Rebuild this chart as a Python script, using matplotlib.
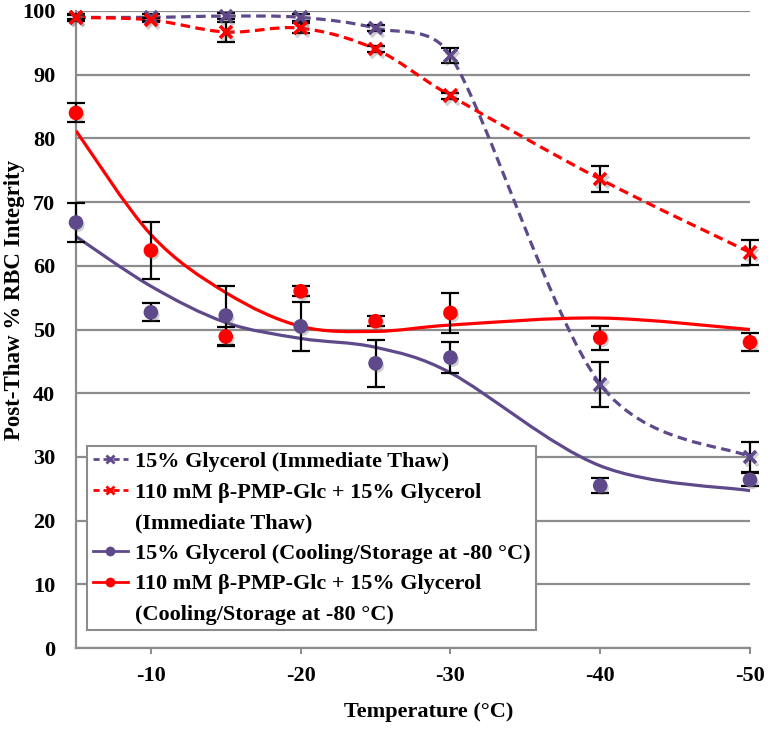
import numpy as np
import matplotlib
matplotlib.use('Agg')
import matplotlib.pyplot as plt
import matplotlib.patheffects as pe
from matplotlib.path import Path
from matplotlib.patches import PathPatch
from matplotlib.lines import Line2D

# ---------------- data ----------------
temps = [-5, -10, -15, -20, -25, -30, -40, -50]
xtick_vals = [-10, -20, -30, -40, -50]
ytick_vals = [0, 10, 20, 30, 40, 50, 60, 70, 80, 90, 100]

# Immediate thaw series (dashed smoothed lines)
gly_thaw = [99.0, 99.0, 99.2, 99.0, 97.3, 93.0, 41.4, 30.0]
gly_thaw_err = [0.5, 0.5, 0.5, 0.5, 0.5, 1.2, 3.5, 2.4]
pmp_thaw = [99.0, 98.6, 96.7, 97.3, 94.0, 86.7, 73.6, 62.1]
pmp_thaw_err = [0.3, 0.3, 1.6, 0.8, 0.5, 0.5, 2.0, 2.0]
# Cooling/storage series (markers only)
gly_cool = [66.8, 52.7, 52.2, 50.5, 44.7, 45.6, 25.5, 26.4]
gly_cool_err = [3.0, 1.4, 4.6, 3.8, 3.7, 2.4, 1.2, 1.0]
pmp_cool = [84.0, 62.4, 48.9, 56.0, 51.3, 52.6, 48.7, 48.0]
pmp_cool_err = [1.5, 4.4, 1.5, 0.8, 0.8, 3.1, 1.9, 1.4]
# trend curves of the cooling/storage series (values read at each temperature)
gly_cool_trend = [64.6, 56.8, 51.1, 48.6, 47.2, 43.2, 28.6, 24.7]
pmp_cool_trend = [81.2, 64.9, 55.8, 50.5, 49.7, 50.7, 51.8, 50.0]

legend_lines = ['15% Glycerol (Immediate Thaw)',
                '110 mM β-PMP-Glc + 15% Glycerol',
                '(Immediate Thaw)',
                '15% Glycerol (Cooling/Storage at -80 °C)',
                '110 mM β-PMP-Glc + 15% Glycerol',
                '(Cooling/Storage at -80 °C)']

PURPLE = '#5E4A8B'
RED = '#FF0000'
GRID = '#8C8C8C'
FONT = ['Liberation Serif', 'DejaVu Serif']

plt.rcParams['font.family'] = FONT
plt.rcParams['font.weight'] = 'bold'

W, H = 768, 729
fig = plt.figure(figsize=(W / 100, H / 100), dpi=100)
L, R, T, B = 76, 750, 11, 648
ax = fig.add_axes([L / W, 1 - B / H, (R - L) / W, (B - T) / H])
ax.set_xlim(-5, -50)
ax.set_ylim(0, 100)


def smooth_path(x, y, k=0.45):
    """Excel-like smoothed line: Catmull-Rom Bezier in screen space,
    handles limited to k * segment length."""
    tr = ax.transData
    pts = tr.transform(np.column_stack([x, y]).astype(float))
    n = len(pts)
    ext = np.vstack([pts[0], pts, pts[-1]])
    verts = [pts[0]]
    codes = [Path.MOVETO]

    def clamp(v, lim):
        ln = np.hypot(*v)
        return v * (lim / ln) if ln > lim and ln > 0 else v

    for i in range(n - 1):
        seg = np.hypot(*(pts[i + 1] - pts[i]))
        h1 = clamp((ext[i + 2] - ext[i]) / 6.0, k * seg)
        h2 = clamp((ext[i + 3] - ext[i + 1]) / 6.0, k * seg)
        verts += [pts[i] + h1, pts[i + 1] - h2, pts[i + 1]]
        codes += [Path.CURVE4] * 3
    verts = tr.inverted().transform(np.array(verts))
    return Path(verts, codes)


DASH = (0, (3.0, 1.7))
for ys, col in [(gly_thaw, PURPLE), (pmp_thaw, RED)]:
    ax.add_patch(PathPatch(smooth_path(temps, ys), fill=False,
                           edgecolor=col, lw=2.3, linestyle=DASH, zorder=3,
                           capstyle='butt'))
for ys, col in [(gly_cool_trend, PURPLE), (pmp_cool_trend, RED)]:
    ax.add_patch(PathPatch(smooth_path(temps, ys), fill=False,
                           edgecolor=col, lw=2.3, linestyle='-', zorder=3))

# error bars + markers
for ys, err in [(gly_thaw, gly_thaw_err), (pmp_thaw, pmp_thaw_err),
                (gly_cool, gly_cool_err), (pmp_cool, pmp_cool_err)]:
    eb = ax.errorbar(temps, ys, yerr=err, fmt='none', ecolor='black',
                     elinewidth=1.6, capsize=6.5, capthick=1.6, zorder=5)
    for a in list(eb.lines[1]) + list(eb.lines[2]):
        a.set_clip_on(False)

shadow_x = [pe.SimpleLineShadow(offset=(1.5, -2), shadow_color='#666666',
                                alpha=0.3), pe.Normal()]
shadow_o = [pe.SimplePatchShadow(offset=(1.5, -2), shadow_rgbFace='#666666',
                                 alpha=0.3), pe.Normal()]
ax.plot(temps, gly_thaw, ls='none', marker='x', ms=9, mew=2.6, color=PURPLE,
        zorder=6, clip_on=False, path_effects=shadow_x)
ax.plot(temps, pmp_thaw, ls='none', marker='x', ms=9, mew=2.6, color=RED,
        zorder=6, clip_on=False, path_effects=shadow_x)
ax.plot(temps, gly_cool, ls='none', marker='o', ms=9.5, color=PURPLE,
        mec=PURPLE, zorder=6, clip_on=False, path_effects=shadow_o)
ax.plot(temps, pmp_cool, ls='none', marker='o', ms=9.5, color=RED,
        mec=RED, zorder=6, clip_on=False, path_effects=shadow_o)

# axes styling
ax.set_xticks(xtick_vals)
ax.set_xticklabels([str(v) for v in xtick_vals])
ax.set_yticks(ytick_vals)
ax.set_yticklabels([str(v) for v in ytick_vals])
ax.grid(axis='y', color=GRID, lw=1.6, zorder=0)
ax.set_axisbelow(True)
for s in ['top', 'right']:
    ax.spines[s].set_visible(False)
for s in ['left', 'bottom']:
    ax.spines[s].set_color(GRID)
    ax.spines[s].set_linewidth(1.6)
ax.tick_params(axis='x', direction='out', length=4, width=1.4, color=GRID,
               pad=9, labelsize=16)
ax.tick_params(axis='y', length=0, pad=15, labelsize=16)
for lab in ax.get_xticklabels() + ax.get_yticklabels():
    lab.set_fontweight('bold')

ax.set_xlabel('Temperature (°C)', fontsize=16, fontweight='bold', va='center')
ax.xaxis.set_label_coords((429 - L) / (R - L), (B - 712) / (B - T))
ax.set_ylabel('Post-Thaw % RBC Integrity', fontsize=16.5, fontweight='bold',
              va='center', ha='center')
ax.yaxis.set_label_coords((15 - L) / (R - L), (B - 300) / (B - T))

blank = Line2D([], [], color='none', lw=0)
handles = [
    Line2D([], [], color=PURPLE, ls=(0, (2.2, 1.4)), lw=2.0, marker='x', ms=6, mew=2),
    Line2D([], [], color=RED, ls=(0, (2.2, 1.4)), lw=2.0, marker='x', ms=6, mew=2),
    blank,
    Line2D([], [], color=PURPLE, ls='-', lw=2.0, marker='o', ms=6),
    Line2D([], [], color=RED, ls='-', lw=2.0, marker='o', ms=6),
    blank,
]
leg = ax.legend(handles, legend_lines, loc='upper left',
                bbox_to_anchor=(87 / W, 1 - 446 / H),
                bbox_transform=fig.transFigure, borderaxespad=0,
                frameon=True, fancybox=False, edgecolor=GRID, framealpha=1,
                prop=dict(family=FONT, weight='bold', size=16),
                handlelength=1.6, handletextpad=0.3, labelspacing=0.45,
                borderpad=0.25)
leg.get_frame().set_linewidth(1.5)
leg.set_zorder(10)

fig.savefig('out.png', dpi=100)
